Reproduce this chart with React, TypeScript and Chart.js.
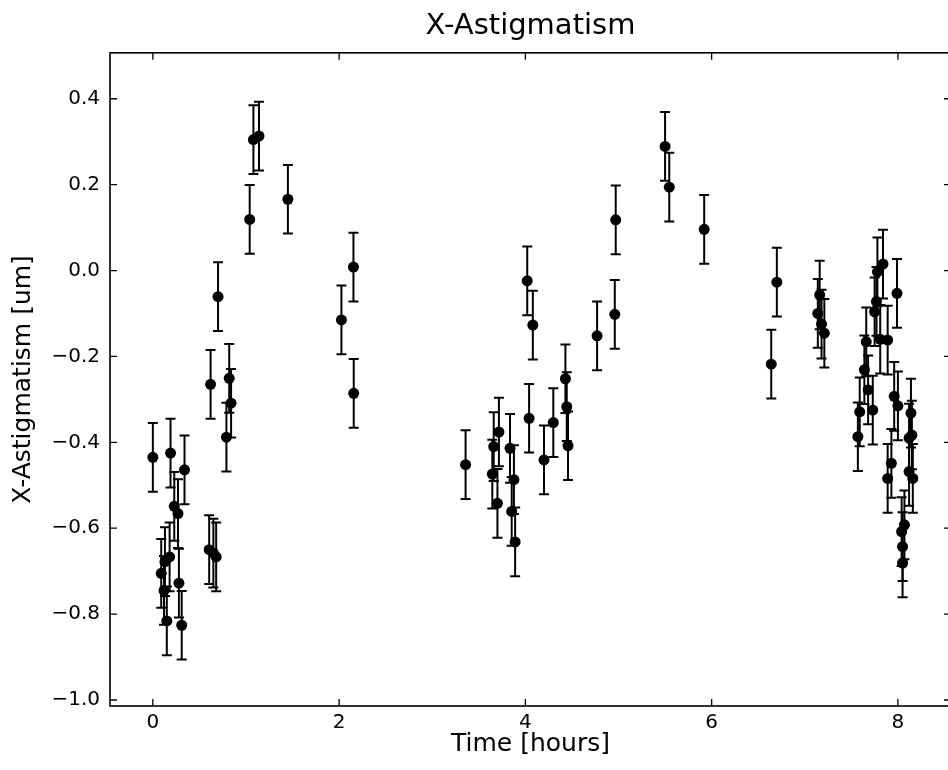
import React, { useEffect, useRef } from "react";
import { Chart, registerables } from "chart.js";

Chart.register(...registerables);

// ---- data ----
const timeHours = [
  0.0, 0.09, 0.12, 0.13, 0.15, 0.18, 0.19, 0.23, 0.27, 0.28, 0.31, 0.34,
  0.605, 0.62, 0.65, 0.68, 0.7, 0.79, 0.82, 0.84,
  1.04, 1.08, 1.14, 1.45, 2.025, 2.154, 2.157,
  3.358, 3.645, 3.66, 3.7, 3.716, 3.835, 3.853, 3.877, 3.89,
  4.02, 4.04, 4.08, 4.2, 4.3, 4.43, 4.444, 4.458, 4.77, 4.96, 4.97,
  5.5, 5.545, 5.92, 6.64, 6.7, 7.14, 7.16, 7.18, 7.21,
  7.57, 7.59, 7.64, 7.66, 7.68, 7.73, 7.75, 7.77, 7.78, 7.81, 7.84, 7.89,
  7.89, 7.93, 7.96, 7.99, 8.0, 8.04, 8.05, 8.05, 8.07, 8.12, 8.12, 8.14,
  8.15, 8.16,
];

const xAstigmatism = [
  -0.435, -0.705, -0.745, -0.678, -0.816, -0.667, -0.425, -0.549, -0.566, -0.728, -0.826, -0.464,
  -0.65, -0.265, -0.658, -0.667, -0.061, -0.388, -0.251, -0.309,
  0.119, 0.305, 0.313, 0.166, -0.115, 0.008, -0.286,
  -0.452, -0.474, -0.41, -0.542, -0.376, -0.414, -0.561, -0.487, -0.632,
  -0.024, -0.344, -0.127, -0.441, -0.354, -0.252, -0.317, -0.408, -0.152, -0.102, 0.118,
  0.289, 0.194, 0.096, -0.218, -0.027, -0.1, -0.057, -0.125, -0.146,
  -0.387, -0.329, -0.231, -0.166, -0.278, -0.325, -0.096, -0.072, -0.003, -0.16, 0.015, -0.162,
  -0.484, -0.449, -0.293, -0.053, -0.315, -0.608, -0.643, -0.681, -0.592, -0.39, -0.468, -0.332,
  -0.383, -0.484,
];

const errors = [
  0.08, 0.08, 0.08, 0.08, 0.08, 0.08, 0.08, 0.08, 0.08, 0.08, 0.08, 0.08,
  0.08, 0.08, 0.08, 0.08, 0.08, 0.08, 0.08, 0.08,
  0.08, 0.08, 0.08, 0.08, 0.08, 0.08, 0.08,
  0.08, 0.08, 0.08, 0.08, 0.08, 0.08, 0.08, 0.08, 0.08,
  0.08, 0.08, 0.08, 0.08, 0.08, 0.08, 0.08, 0.08, 0.08, 0.08, 0.08,
  0.08, 0.08, 0.08, 0.08, 0.08, 0.08, 0.08, 0.08, 0.08,
  0.08, 0.08, 0.08, 0.08, 0.08, 0.08, 0.08, 0.08, 0.08, 0.08, 0.08, 0.08,
  0.08, 0.08, 0.08, 0.08, 0.08, 0.08, 0.08, 0.08, 0.08, 0.08, 0.08, 0.08,
  0.08, 0.08,
];

const X_MIN = -0.46;
const X_MAX = 8.57;
const X_STEP = 2;
const Y_MIN = -1.014;
const Y_MAX = 0.507;
const Y_STEP = 0.2;

const FONT = "'DejaVu Sans', 'Liberation Sans', sans-serif";

const errorBarPlugin = {
  id: "errorBars",
  beforeDatasetsDraw(chart: any) {
    const { ctx, chartArea, scales } = chart;
    const xs = scales.x;
    const ys = scales.y;
    ctx.save();
    ctx.beginPath();
    ctx.rect(chartArea.left, chartArea.top, chartArea.right - chartArea.left, chartArea.bottom - chartArea.top);
    ctx.clip();
    ctx.strokeStyle = "#000";
    ctx.lineWidth = 2;
    for (let i = 0; i < timeHours.length; i++) {
      const px = xs.getPixelForValue(timeHours[i]);
      const top = ys.getPixelForValue(xAstigmatism[i] + errors[i]);
      const bot = ys.getPixelForValue(xAstigmatism[i] - errors[i]);
      ctx.beginPath();
      ctx.moveTo(px, top);
      ctx.lineTo(px, bot);
      ctx.moveTo(px - 5, top);
      ctx.lineTo(px + 5, top);
      ctx.moveTo(px - 5, bot);
      ctx.lineTo(px + 5, bot);
      ctx.stroke();
    }
    ctx.restore();
  },
};

const framePlugin = {
  id: "frameTicks",
  afterDraw(chart: any) {
    const { ctx, chartArea, scales } = chart;
    const { left, right, top, bottom } = chartArea;
    ctx.save();
    ctx.strokeStyle = "#000";
    ctx.lineWidth = 1.3;
    const len = 7;
    ctx.beginPath();
    for (const t of scales.x.ticks) {
      const px = scales.x.getPixelForValue(t.value);
      ctx.moveTo(px, bottom);
      ctx.lineTo(px, bottom - len);
      ctx.moveTo(px, top);
      ctx.lineTo(px, top + len);
    }
    for (const t of scales.y.ticks) {
      const py = scales.y.getPixelForValue(t.value);
      ctx.moveTo(left, py);
      ctx.lineTo(left + len, py);
      ctx.moveTo(right, py);
      ctx.lineTo(right - len, py);
    }
    ctx.stroke();
    ctx.lineWidth = 1.6;
    ctx.strokeRect(left, top, right - left, bottom - top);
    ctx.restore();
  },
};

function fmtY(v: number): string {
  if (Math.abs(v) < 1e-9) return "0.0";
  return v.toFixed(1).replace("-", "\u2212");
}

export default function App() {
  const canvasRef = useRef<HTMLCanvasElement | null>(null);

  useEffect(() => {
    const canvas = canvasRef.current;
    if (!canvas) return;
    const points = timeHours.map((x, i) => ({ x, y: xAstigmatism[i] }));
    const chart = new Chart(canvas, {
      type: "scatter",
      data: {
        datasets: [
          {
            label: "X-Astigmatism",
            data: points,
            pointRadius: 5.5,
            pointHoverRadius: 5.5,
            pointBackgroundColor: "#000",
            pointBorderWidth: 0,
            borderColor: "#000",
            showLine: false,
          },
        ],
      },
      plugins: [errorBarPlugin, framePlugin],
      options: {
        animation: false,
        responsive: false,
        devicePixelRatio: 1,
        events: [],
        layout: { padding: { left: 0, right: 9, top: 0, bottom: 0 } },
        plugins: {
          legend: { display: false },
          tooltip: { enabled: false },
          title: {
            display: true,
            text: "X-Astigmatism",
            fullSize: false,
            color: "#000",
            font: { family: FONT, size: 29, weight: "normal", lineHeight: 1.2 },
            padding: { top: 9, bottom: 9 },
          },
        },
        scales: {
          x: {
            type: "linear",
            min: X_MIN,
            max: X_MAX,
            grid: { display: false, drawTicks: false },
            border: { display: false },
            ticks: {
              stepSize: X_STEP,
              includeBounds: false,
              color: "#000",
              padding: 5,
              maxRotation: 0,
              font: { family: FONT, size: 20 },
              callback: (v: any) => String(Math.round(Number(v))),
            },
            title: {
              display: true,
              text: "Time [hours]",
              color: "#000",
              font: { family: FONT, size: 25, lineHeight: 1.2 },
              padding: { top: 0, bottom: 11 },
            },
            afterFit: (scale: any) => {
              scale.height = 64;
            },
          },
          y: {
            type: "linear",
            min: Y_MIN,
            max: Y_MAX,
            grid: { display: false, drawTicks: false },
            border: { display: false },
            ticks: {
              stepSize: Y_STEP,
              includeBounds: false,
              color: "#000",
              padding: 10,
              font: { family: FONT, size: 20 },
              callback: (v: any) => fmtY(Number(v)),
            },
            title: {
              display: true,
              text: "X-Astigmatism [um]",
              color: "#000",
              font: { family: FONT, size: 25, lineHeight: 1.2 },
              padding: { top: 8, bottom: 0 },
            },
            afterFit: (scale: any) => {
              scale.width = 110;
            },
          },
        },
      },
    });
    return () => chart.destroy();
  }, []);

  return (
    <div
      style={{
        position: "fixed",
        left: 0,
        top: 0,
        width: 948,
        height: 770,
        overflow: "hidden",
        background: "#fff",
      }}
    >
      <canvas ref={canvasRef} width={960} height={770} style={{ display: "block" }} />
    </div>
  );
}
